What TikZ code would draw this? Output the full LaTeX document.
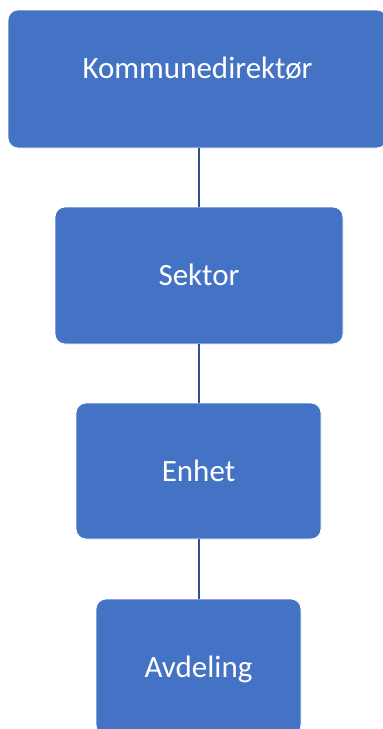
\documentclass[tikz,border=0pt]{standalone}
\usepackage{fontspec}
\setmainfont{Carlito}
\usepackage{xcolor}
\usepackage{tikz}
\usetikzlibrary{positioning,calc}
\definecolor{orgblue}{HTML}{4472C4}
\definecolor{orgline}{HTML}{2F528F}

\tikzset{
    orgbox/.style={draw=white, line width=0.8pt, fill=orgblue, rounded corners=10pt,
                   text=white, font=\fontsize{31}{36}\selectfont,
                   text height=20pt, text depth=0pt, inner sep=0pt},
    orglink/.style={draw=orgline, line width=2pt}
}

\begin{document}
\begin{tikzpicture}[x=1pt, y=-1pt]
        \useasboundingbox (0,0) rectangle (383,729);
        \clip (0,0) rectangle (383,729);
        % levels of the organisation
        \node[orgbox, minimum width=379pt, minimum height=138pt, text depth=22pt] (direktor) at (197.5,79) {Kommunedirektør};
        \node[orgbox, minimum width=288pt, minimum height=137pt] (sektor) at (199,275.5) {Sektor};
        \node[orgbox, minimum width=245pt, minimum height=136pt] (enhet) at (198.5,471) {Enhet};
        \node[orgbox, minimum width=205pt, minimum height=136pt] (avdeling) at (198.5,667) {Avdeling};
        % connectors
        \draw[orglink] (sektor.north |- direktor.south) -- (sektor.north);
        \draw[orglink] (sektor.south) -- (sektor.south |- enhet.north);
        \draw[orglink] (sektor.south |- enhet.south) -- (sektor.south |- avdeling.north);
    \end{tikzpicture}
\end{document}
